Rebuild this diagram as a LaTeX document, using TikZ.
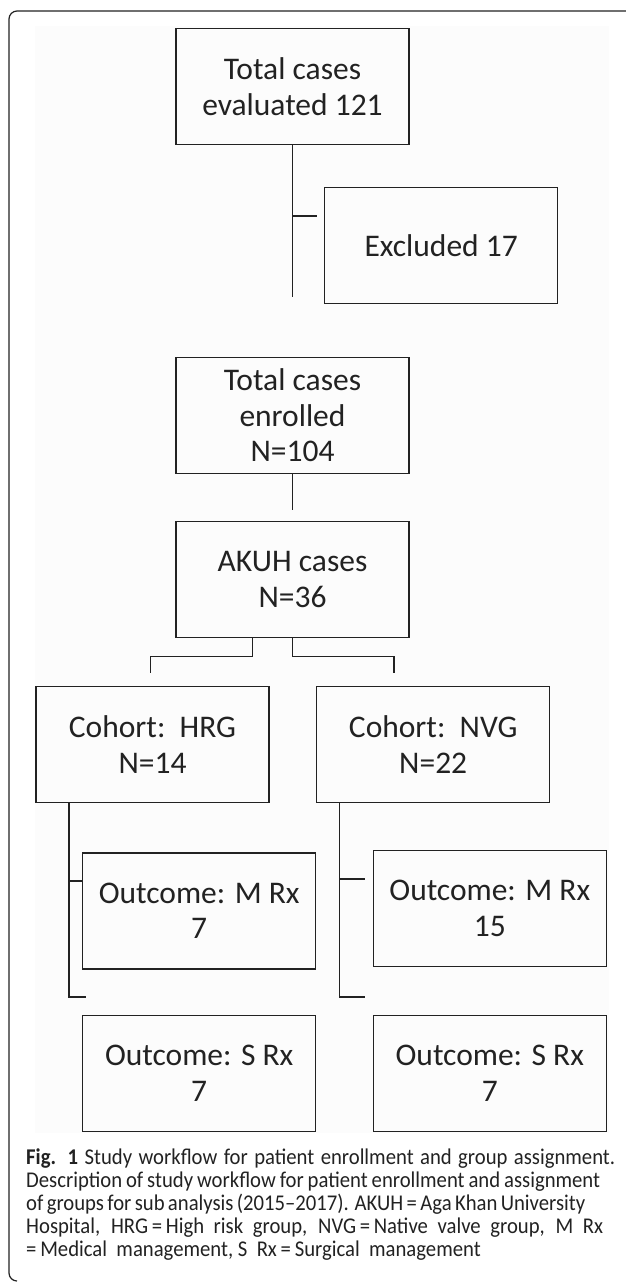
\documentclass[tikz,border=0pt]{standalone}
\usepackage{fontspec}
\newfontfamily\boxfont{Carlito}
\newfontfamily\capfont[FakeStretch=0.92]{Carlito}
\definecolor{ink}{HTML}{222222}
\begin{document}
\begin{tikzpicture}[x=1pt,y=-1pt,
  box/.style={draw=ink, line width=1.3pt, minimum width=233pt, minimum height=116pt,
    inner sep=0pt, align=center, text=ink, font=\boxfont\fontsize{31.5}{35.5}\selectfont},
  conn/.style={draw=ink, line width=1.1pt}]
\useasboundingbox (0,0) rectangle (625,1282);
\fill[white] (0,0) rectangle (625,1282);
\fill[black!1.2] (35,26) rectangle (609,1133);
\draw[line width=1.2pt, ink, rounded corners=8pt] (17,1281) -- (9,1281) -- (9,11) -- (640,11);
% boxes
\node[box] (b1) at (292.5,86.5) {Total cases\\evaluated 121};
\node[box] (ex) at (441.2,245.5) {Excluded 17};
\node[box] (en) at (292.5,415.5) {Total cases\\enrolled\\N=104};
\node[box] (ak) at (292.5,579.5) {AKUH cases\\N=36};
\node[box] (hrg) at (152.5,744.5) {Cohort:\ \ HRG\\N=14};
\node[box] (nvg) at (433.2,744.5) {Cohort:\ \ NVG\\N=22};
\node[box] (m1) at (199.2,911) {Outcome: M Rx\\7};
\node[box] (m2) at (489.8,908.5) {Outcome: M Rx\\15};
\node[box] (s1) at (199.2,1073.5) {Outcome: S Rx\\7};
\node[box] (s2) at (489.8,1073.5) {Outcome: S Rx\\7};
% connectors
\coordinate (t1) at (292.5,297);
\coordinate (exin) at (317,216);
\draw[conn] (b1.south) -- (t1);
\draw[conn] (b1.south |- exin) -- (exin);
\coordinate (ena) at (292.5,510);
\draw[conn] (en.south) -- (ena);
\coordinate (hrgin) at (150.7,673);
\coordinate (nvgin) at (394,673);
\draw[conn] ([xshift=-40.1pt]ak.south) -- ++(0,18) -| (hrgin);
\draw[conn] (ak.south) -- ++(0,18) -| (nvgin);
\coordinate (h1) at (69,997);
\coordinate (h2) at (85.7,997);
\coordinate (hk) at (69,881);
\draw[conn] (hrg.south -| h1) -- (h1) -- (h2);
\draw[conn] (hk) -- (hk -| m1.west);
\coordinate (n1) at (339.7,997);
\coordinate (n2) at (364.8,997);
\coordinate (nk) at (339.7,879);
\coordinate (nke) at (364.8,879);
\draw[conn] (nvg.south -| n1) -- (n1) -- (n2);
\draw[conn] (nk) -- (nke);
% caption
\node[anchor=north west, inner sep=0pt, align=left, text=ink,
  font=\capfont\fontsize{22.5}{23}\selectfont] (cap) at (26,1148)
  {\makebox[589pt][s]{\textbf{Fig. 1} Study workflow for patient enrollment and group assignment.}\\
   \makebox[574pt][s]{Description of study workflow for patient enrollment and assignment}\\
   \makebox[559pt][s]{of groups for sub analysis (2015–2017). AKUH = Aga Khan University}\\
   \makebox[577pt][s]{Hospital, HRG\,=\,High risk group, NVG\,=\,Native valve group, M Rx}\\
   =\,Medical\ \ management, S\ \ Rx\,=\,Surgical\ \ management};
\end{tikzpicture}
\end{document}
